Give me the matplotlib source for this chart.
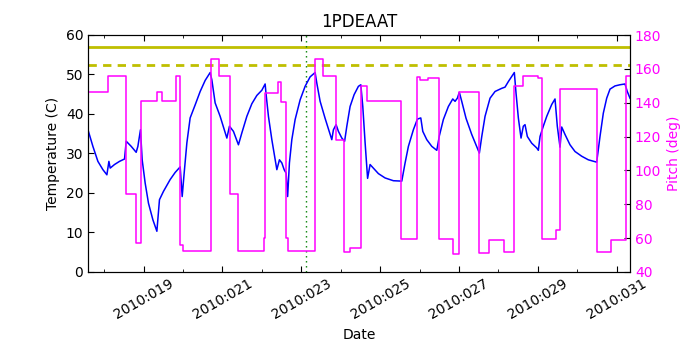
import matplotlib
matplotlib.use("Agg")
import matplotlib.pyplot as plt
from matplotlib.ticker import MultipleLocator, FuncFormatter
import numpy as np

plt.rcParams['font.family'] = ['DejaVu Sans']
plt.rcParams['lines.scale_dashes'] = False

# Temperature (day of year 2010, degC)
temp_time = [17.594, 17.713, 17.840, 17.967, 18.068, 18.119, 18.152, 18.261, 18.388, 18.515,
             18.558, 18.685, 18.811, 18.854, 18.920, 18.963, 19.039, 19.123, 19.235, 19.336,
             19.402, 19.503, 19.673, 19.800, 19.927, 19.978, 20.028, 20.097, 20.180, 20.307,
             20.434, 20.561, 20.688, 20.731, 20.814, 20.941, 21.111, 21.177, 21.278, 21.405,
             21.491, 21.618, 21.745, 21.872, 21.998, 22.082, 22.107, 22.166, 22.252, 22.336,
             22.379, 22.445, 22.506, 22.564, 22.615, 22.653, 22.698, 22.759, 22.843, 22.970,
             23.096, 23.223, 23.350, 23.393, 23.477, 23.603, 23.773, 23.814, 23.882, 23.941,
             24.027, 24.098, 24.154, 24.237, 24.339, 24.448, 24.509, 24.559, 24.618, 24.681,
             24.744, 24.828, 24.955, 25.125, 25.335, 25.548, 25.632, 25.716, 25.842, 25.944,
             26.030, 26.081, 26.182, 26.309, 26.436, 26.502, 26.603, 26.730, 26.841, 26.900,
             26.958, 27.008, 27.069, 27.178, 27.323, 27.516, 27.577, 27.660, 27.787, 27.914,
             28.084, 28.167, 28.251, 28.337, 28.403, 28.446, 28.505, 28.573, 28.631, 28.674,
             28.733, 28.844, 28.971, 29.012, 29.055, 29.138, 29.225, 29.351, 29.435, 29.493,
             29.562, 29.605, 29.689, 29.815, 29.942, 30.112, 30.279, 30.492, 30.576, 30.660,
             30.746, 30.830, 30.956, 31.083, 31.210, 31.268, 31.337]
temp_value = [35.8, 31.8, 28.0, 25.9, 24.6, 28.0, 26.3, 27.2, 28.0, 28.6,
              33.1, 31.8, 30.3, 31.8, 36.0, 28.4, 22.5, 17.4, 13.2, 10.3,
              18.3, 20.4, 23.4, 25.2, 26.6, 19.1, 25.0, 32.7, 39.0, 42.3,
              45.7, 48.5, 50.5, 48.6, 42.8, 39.4, 33.9, 36.9, 35.6, 32.2,
              35.2, 39.4, 42.6, 44.7, 46.0, 47.6, 44.9, 39.4, 33.5, 28.4,
              25.9, 28.4, 27.6, 25.9, 25.0, 19.1, 27.6, 33.5, 38.6, 43.6,
              47.0, 49.4, 50.5, 47.8, 43.2, 38.9, 33.5, 36.0, 37.3, 35.6,
              33.9, 33.1, 36.9, 41.9, 44.9, 47.0, 47.4, 41.9, 32.7, 23.7,
              27.2, 26.3, 24.9, 23.8, 23.1, 23.0, 27.6, 31.8, 36.0, 38.7,
              39.0, 35.6, 33.5, 31.8, 30.8, 34.5, 38.6, 41.9, 43.8, 43.2,
              44.0, 45.5, 43.2, 38.9, 34.8, 30.1, 34.3, 39.4, 44.0, 45.7,
              46.5, 46.8, 48.2, 49.5, 50.5, 45.3, 39.0, 33.9, 36.9, 37.3,
              34.3, 32.6, 31.4, 30.8, 34.3, 36.9, 39.4, 42.4, 43.8, 36.9,
              31.6, 36.7, 34.8, 32.2, 30.5, 29.3, 28.4, 27.8, 34.3, 40.2,
              44.0, 46.3, 47.1, 47.4, 47.6, 45.7, 44.0]

# Pitch (deg), step changes
pitch_time = [17.594, 18.084, 18.558, 18.819, 18.938, 19.351, 19.471, 19.833, 19.935, 19.995,
              20.705, 20.923, 21.182, 21.405, 22.064, 22.090, 22.404, 22.488, 22.615, 22.673,
              23.350, 23.560, 23.882, 24.085, 24.237, 24.508, 24.676, 25.538, 25.928, 26.012,
              26.207, 26.481, 26.856, 27.009, 27.516, 27.769, 28.149, 28.403, 28.616, 29.012,
              29.098, 29.453, 29.562, 30.493, 30.847, 31.227, 31.337]
pitch_value = [146.5, 155.5, 86.2, 57.1, 141.2, 146.1, 140.8, 155.5, 56.1, 52.2,
               165.8, 155.5, 86.3, 52.2, 60.0, 145.7, 152.0, 140.2, 60.0, 52.2,
               165.8, 155.5, 118.1, 51.6, 54.2, 150.1, 140.8, 59.5, 155.0, 153.6,
               154.6, 59.5, 50.8, 146.1, 51.0, 59.1, 51.6, 150.1, 155.5, 154.4,
               59.5, 65.0, 148.1, 51.6, 58.7, 155.5, 155.5]

planning_limit = 57.0
caution_limit = 52.5
now_time = 23.12
year = 2010

fig = plt.figure(figsize=(7, 3.5), dpi=100)
ax = fig.add_axes([0.126, 0.223, 0.774, 0.677])
ax.plot(temp_time, temp_value, color='b', lw=1.1, zorder=3)
ax.axhline(planning_limit, color='y', lw=2)
ax.axhline(caution_limit, color='y', lw=2, dashes=(6, 4.5))
ax.axvline(now_time, color='g', lw=1, dashes=(1, 2.6))
ax.set_xlim(temp_time[0], temp_time[-1])
ax.set_ylim(0, 60)
ax.set_yticks(np.arange(0, 61, 10))
ax.xaxis.set_major_locator(MultipleLocator(2, offset=1))
ax.xaxis.set_minor_locator(MultipleLocator(1))
ax.xaxis.set_major_formatter(FuncFormatter(lambda v, p: f"{year}:{int(round(v)):03d}"))
ax.tick_params(which='both', direction='in', top=True, labelsize=10)
ax.tick_params(which='major', length=4)
ax.tick_params(which='minor', length=2)
for lbl in ax.get_xticklabels():
    lbl.set_rotation(30)
    lbl.set_ha('center')
ax.set_xlabel('Date', fontsize=10)
ax.set_ylabel('Temperature (C)', fontsize=10)
ax.set_title('1PDEAAT', fontsize=12)

ax2 = ax.twinx()
ax2.plot(pitch_time, pitch_value, color='#ff00ff', lw=1.1, drawstyle='steps-post')
ax2.set_ylim(40, 180)
ax2.set_yticks(np.arange(40, 181, 20))
ax2.tick_params(axis='y', direction='in', length=4, labelsize=10, labelcolor='#ff00ff')
ax2.set_ylabel('Pitch (deg)', color='#ff00ff', fontsize=10)
ax2.set_xlim(temp_time[0], temp_time[-1])

fig.savefig('out.png', dpi=100, facecolor='white')
